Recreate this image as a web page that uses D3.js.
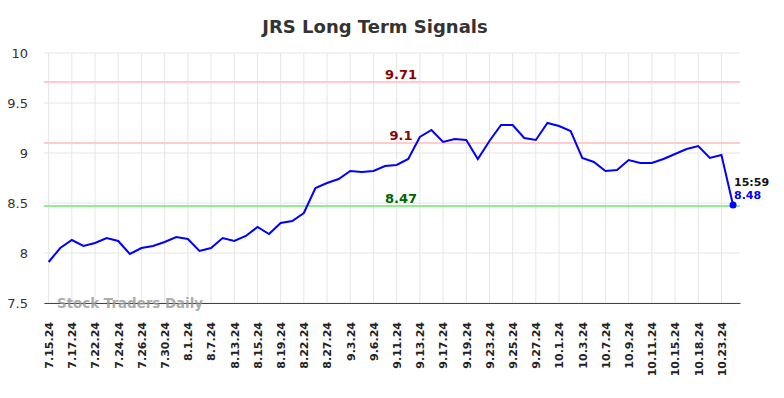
<!DOCTYPE html>
<html>
<head>
<meta charset="utf-8">
<script src="https://cdn.jsdelivr.net/npm/d3@7"></script>
<style>
  body { margin: 0; background: #fff; }
  svg { font-family: "DejaVu Sans", sans-serif; }
</style>
</head>
<body>
<svg id="chart" width="784" height="398"></svg>
<script>
// signal levels
const levels = [9.71, 9.1, 8.47];
const levelColors = ["#8b0000", "#8b0000", "#006400"];
const levelLineColors = ["#ffcccc", "#ffcccc", "#90ee90"];

// closing prices, one per session shown
const prices = [
  7.91, 8.05, 8.13, 8.07, 8.10, 8.15, 8.12, 7.99, 8.05, 8.07,
  8.11, 8.16, 8.14, 8.02, 8.05, 8.15, 8.12, 8.17, 8.26, 8.19,
  8.30, 8.32, 8.40, 8.65, 8.70, 8.74, 8.82, 8.81, 8.82, 8.87,
  8.88, 8.94, 9.16, 9.23, 9.11, 9.14, 9.13, 8.94, 9.12, 9.28,
  9.28, 9.15, 9.13, 9.30, 9.27, 9.22, 8.95, 8.91, 8.82, 8.83,
  8.93, 8.90, 8.90, 8.94, 8.99, 9.04, 9.07, 8.95, 8.98, 8.48
];

// tick labels, every second session
const tickLabels = [
  "7.15.24", "7.17.24", "7.22.24", "7.24.24", "7.26.24", "7.30.24",
  "8.1.24", "8.7.24", "8.13.24", "8.15.24", "8.19.24", "8.22.24",
  "8.27.24", "9.3.24", "9.6.24", "9.11.24", "9.13.24", "9.17.24",
  "9.19.24", "9.23.24", "9.25.24", "9.27.24", "10.1.24", "10.3.24",
  "10.7.24", "10.9.24", "10.11.24", "10.15.24", "10.18.24", "10.23.24"
];

const yTicks = [7.5, 8, 8.5, 9, 9.5, 10];
const lastTime = "15:59";

const svg = d3.select("#chart");
const m = { left: 44, right: 740, top: 53, bottom: 303 };

const x = d3.scaleLinear().domain([-0.4, prices.length - 1 + 0.6]).range([m.left, m.right]);
const y = d3.scaleLinear().domain([7.5, 10]).range([m.bottom, m.top]);

// title
svg.append("text")
  .attr("x", 375).attr("y", 33)
  .attr("text-anchor", "middle")
  .style("font-size", "18px").style("font-weight", "bold").style("fill", "#333")
  .text("JRS Long Term Signals");

// horizontal grid
svg.append("g").selectAll("line")
  .data(yTicks)
  .enter().append("line")
  .attr("x1", m.left).attr("x2", m.right)
  .attr("y1", d => y(d)).attr("y2", d => y(d))
  .style("stroke", "#e6e6e6").style("stroke-width", 1);

// vertical grid
const tickIdx = tickLabels.map((d, i) => i * 2);
svg.append("g").selectAll("line")
  .data(tickIdx)
  .enter().append("line")
  .attr("x1", d => x(d)).attr("x2", d => x(d))
  .attr("y1", m.top).attr("y2", m.bottom)
  .style("stroke", "#e6e6e6").style("stroke-width", 1);

// y axis labels
const yAxis = svg.append("g")
  .attr("transform", "translate(" + m.left + ",0)")
  .call(d3.axisLeft(y).tickValues(yTicks).tickSize(0).tickPadding(16).tickFormat(d3.format("")));
yAxis.select(".domain").remove();
yAxis.selectAll("text").style("font-size", "13px").style("fill", "#333").style("font-family", "DejaVu Sans");

// x axis
const xAxis = svg.append("g")
  .attr("transform", "translate(0," + m.bottom + ")")
  .call(d3.axisBottom(x).tickValues(tickIdx).tickSize(0).tickFormat((d, i) => tickLabels[i]));
xAxis.select(".domain").style("stroke", "#444").style("stroke-width", 1);
xAxis.selectAll("text")
  .attr("transform", "rotate(-90)")
  .attr("x", -19).attr("y", 0).attr("dy", "0.35em")
  .style("text-anchor", "end")
  .style("font-size", "11px").style("font-weight", "bold").style("fill", "#222")
  .style("font-family", "DejaVu Sans");

// watermark
svg.append("text")
  .attr("x", 57).attr("y", 308)
  .style("font-size", "13.4px").style("font-weight", "bold")
  .style("fill", "#999").style("opacity", 0.8)
  .text("Stock Traders Daily");

// signal lines
levels.forEach(function(v, i) {
  svg.append("line")
    .attr("x1", m.left).attr("x2", m.right)
    .attr("y1", y(v)).attr("y2", y(v))
    .style("stroke", levelLineColors[i]).style("stroke-width", 2);
  svg.append("text")
    .attr("x", 401).attr("y", y(v) - 3)
    .attr("text-anchor", "middle")
    .style("font-size", "13px").style("font-weight", "bold")
    .style("fill", levelColors[i])
    .text(String(v));
});

// price line
const line = d3.line().x((d, i) => x(i)).y(d => y(d));
svg.append("path")
  .datum(prices)
  .attr("d", line)
  .style("fill", "none").style("stroke", "#0000ff").style("stroke-width", 2);

// last point
const li = prices.length - 1;
svg.append("circle")
  .attr("cx", x(li)).attr("cy", y(prices[li])).attr("r", 3.5)
  .style("fill", "#0000ff");
svg.append("text")
  .attr("x", x(li) + 1).attr("y", y(prices[li]) - 19)
  .style("font-size", "11px").style("font-weight", "bold").style("fill", "#111")
  .text(lastTime);
svg.append("text")
  .attr("x", x(li) + 1).attr("y", y(prices[li]) - 6)
  .style("font-size", "11px").style("font-weight", "bold").style("fill", "#0000ff")
  .text(String(prices[li]));
</script>
</body>
</html>
